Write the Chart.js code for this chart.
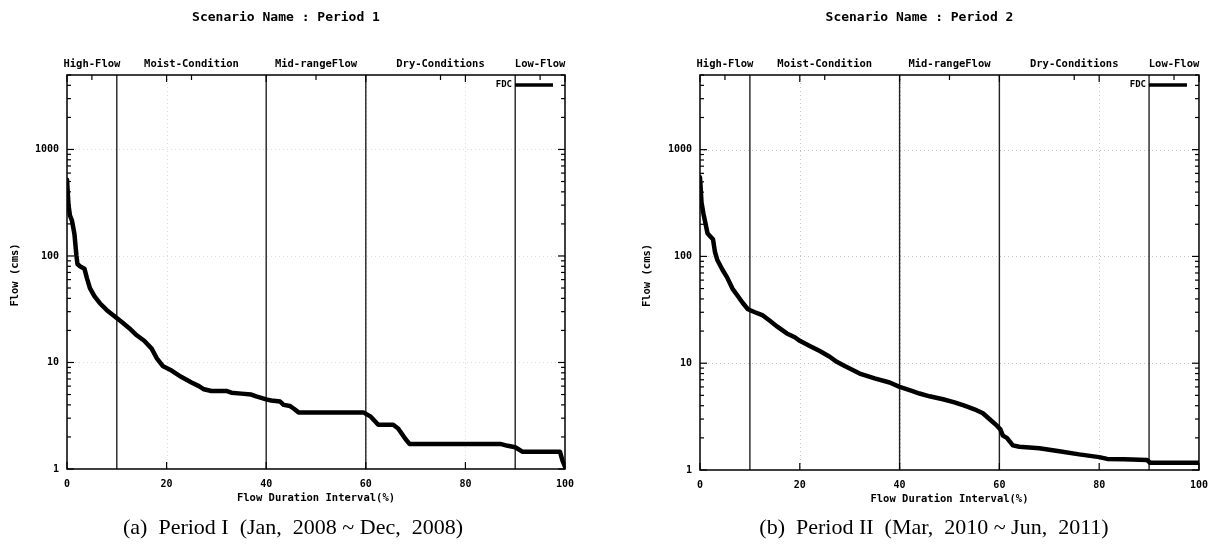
<!DOCTYPE html>
<html>
<head>
<meta charset="utf-8">
<script src="https://cdn.jsdelivr.net/npm/chart.js@4.4.1/dist/chart.umd.min.js"></script>
<style>
html, body { margin: 0; padding: 0; background: #fff; }
#wrap { position: relative; width: 1217px; height: 550px; overflow: hidden; }
canvas { position: absolute; top: 0; }
</style>
</head>
<body>
<div id="wrap">
  <canvas id="p1" width="608" height="550" style="left:0"></canvas>
  <canvas id="p2" width="609" height="550" style="left:608px"></canvas>
</div>
<script>
"use strict";

// flow duration curve, period 1 (x = % of time exceeded, y = flow in cms)
const durP1 = [0, 0.3, 0.6, 1.0, 1.5, 1.9, 2.1, 2.6, 3.5, 4.0, 4.6, 5.5, 6.6, 8.0, 9.6,
  11, 12.5, 14, 15.5, 17, 18, 19.3, 21, 23, 25, 26.5, 27.5, 29, 32, 33, 35, 37, 38, 40,
  41, 42.8, 43.5, 44.8, 45.5, 46.5, 59.5, 61, 62.5, 65.5, 66.5, 68, 68.8, 87, 88.5, 90,
  90.5, 91.5, 99, 99.5, 100];
const flowP1 = [520, 300, 240, 215, 160, 100, 84, 80, 76, 62, 50, 42, 36, 31, 27,
  24, 21, 18, 16, 13.5, 11, 9.2, 8.4, 7.3, 6.5, 6.0, 5.6, 5.4, 5.4, 5.2, 5.1, 5.0, 4.8, 4.5,
  4.4, 4.3, 4.0, 3.9, 3.7, 3.4, 3.4, 3.1, 2.6, 2.6, 2.4, 1.9, 1.72, 1.72, 1.65, 1.6,
  1.55, 1.45, 1.45, 1.2, 1.05];

// period 2
const durP2 = [0, 0.3, 0.7, 1.0, 1.5, 2.0, 2.6, 3.0, 3.5, 4.5, 5.4, 6.5, 7.5, 8.5, 9.6,
  11, 12.6, 14, 15.5, 17.4, 19, 20, 22, 24, 26, 27.4, 29, 32, 35, 38, 40, 42, 44, 46,
  48.7, 51, 53, 55, 56.7, 58, 59.5, 60.2, 60.7, 61.5, 62.7, 64, 68, 72, 76, 80, 81.6,
  85, 89.6, 90.2, 100];
const flowP2 = [550, 320, 250, 215, 165, 155, 145, 110, 92, 75, 64, 50, 43, 37, 32,
  30, 28, 25, 22, 19, 17.5, 16.2, 14.5, 13, 11.5, 10.3, 9.4, 8.0, 7.2, 6.6, 6.0, 5.6, 5.2, 4.9,
  4.6, 4.3, 4.0, 3.7, 3.4, 3.0, 2.6, 2.4, 2.1, 2.0, 1.7, 1.65, 1.6, 1.5, 1.4, 1.32, 1.27,
  1.26, 1.24, 1.17, 1.17];

const zoneEdges = [10, 40, 60, 90];
const zoneNames = ["High-Flow", "Moist-Condition", "Mid-rangeFlow", "Dry-Conditions", "Low-Flow"];
const zoneMids = [5, 25, 50, 75, 95];
const xTicks = [0, 20, 40, 60, 80, 100];
const yTicks = [1, 10, 100, 1000];
const yMax = 5000;

const titles = ["Scenario Name : Period 1", "Scenario Name : Period 2"];
const captions = ["(a)  Period I  (Jan,  2008 ~ Dec,  2008)", "(b)  Period II  (Mar,  2010 ~ Jun,  2011)"];

const MONO = '"DejaVu Sans Mono", "Liberation Mono", monospace';

function line(ctx, x1, y1, x2, y2) {
    ctx.beginPath();
    ctx.moveTo(x1, y1);
    ctx.lineTo(x2, y2);
    ctx.stroke();
}

const decor = {
    id: "decor",
    beforeDatasetsDraw(chart, args, o) {
        const { ctx, chartArea: a, scales: { x, y } } = chart;
        ctx.save();
        // dotted grid
        ctx.strokeStyle = o.gridColor;
        ctx.lineWidth = 1;
        ctx.setLineDash([1, 3]);
        xTicks.slice(1, -1).forEach(v => {
            const px = Math.round(x.getPixelForValue(v)) + 0.5;
            line(ctx, px, a.top, px, a.bottom);
        });
        yTicks.slice(1).forEach(v => {
            const py = Math.round(y.getPixelForValue(v)) + 0.5;
            line(ctx, a.left, py, a.right, py);
        });
        ctx.setLineDash([]);
        // zone boundaries
        ctx.strokeStyle = "#222";
        ctx.lineWidth = 1.4;
        zoneEdges.forEach(v => {
            const px = x.getPixelForValue(v);
            line(ctx, px, a.top, px, a.bottom);
        });
        ctx.restore();
    },
    afterDatasetsDraw(chart, args, o) {
        const { ctx, chartArea: a, scales: { x, y } } = chart;
        ctx.save();
        ctx.strokeStyle = "#000";
        ctx.lineWidth = 1.5;
        ctx.strokeRect(a.left, a.top, a.right - a.left, a.bottom - a.top);

        // tick marks (inward, mirrored)
        ctx.lineWidth = 1.2;
        yTicks.forEach(d => {
            const py = y.getPixelForValue(d);
            line(ctx, a.left, py, a.left + 7, py);
            line(ctx, a.right, py, a.right - 7, py);
            for (let k = 2; k <= 9; k++) {
                const v = d * k;
                if (v > yMax) break;
                const pm = y.getPixelForValue(v);
                line(ctx, a.left, pm, a.left + 4, pm);
                line(ctx, a.right, pm, a.right - 4, pm);
            }
        });
        xTicks.forEach(v => {
            const px = x.getPixelForValue(v);
            line(ctx, px, a.bottom, px, a.bottom - 7);
            line(ctx, px, a.top, px, a.top + 7);
        });
        zoneMids.forEach(v => {
            const px = x.getPixelForValue(v);
            line(ctx, px, a.top, px, a.top + 5);
        });

        ctx.fillStyle = "#000";
        ctx.textBaseline = "middle";
        const cx = (a.left + a.right) / 2;

        // title
        ctx.textAlign = "center";
        ctx.font = "bold 13px " + MONO;
        ctx.fillText(o.title, cx - 30, 18);

        // zone labels on the top axis
        ctx.font = "bold 10.5px " + MONO;
        zoneNames.forEach((n, i) => {
            ctx.fillText(n, x.getPixelForValue(zoneMids[i]), a.top - 11);
        });

        // axis titles
        ctx.font = "bold 10.5px " + MONO;
        ctx.fillText("Flow Duration Interval(%)", cx, a.bottom + 29);
        ctx.save();
        ctx.translate(o.yTitleX, (a.top + a.bottom) / 2 + 3);
        ctx.rotate(-Math.PI / 2);
        ctx.fillText("Flow (cms)", 0, 0);
        ctx.restore();

        // legend
        ctx.textAlign = "right";
        ctx.font = "bold 9px " + MONO;
        ctx.fillText("FDC", a.right - 53, a.top + 10);
        ctx.lineWidth = 3.5;
        line(ctx, a.right - 50, a.top + 10, a.right - 12, a.top + 10);

        // caption
        ctx.textAlign = "center";
        ctx.font = '22px "Liberation Serif", "Times New Roman", serif';
        ctx.fillText(o.caption, o.captionX, 528);
        ctx.restore();
    }
};

function makeChart(id, dur, flow, idx, pad, gridColor, yTitleX, captionX) {
    const canvas = document.getElementById(id);
    return new Chart(canvas.getContext("2d"), {
        type: "line",
        data: {
            datasets: [{
                label: "FDC",
                data: dur.map((d, i) => ({ x: d, y: flow[i] })),
                borderColor: "#000",
                borderWidth: 4.5,
                pointRadius: 0,
                tension: 0,
                borderJoinStyle: "round",
                borderCapStyle: "round",
                fill: false
            }]
        },
        options: {
            responsive: false,
            animation: false,
            layout: { padding: pad },
            plugins: {
                legend: { display: false },
                title: { display: false },
                tooltip: { enabled: false },
                decor: { title: titles[idx], caption: captions[idx], gridColor: gridColor,
                         yTitleX: yTitleX, captionX: captionX }
            },
            scales: {
                x: {
                    type: "linear",
                    min: 0,
                    max: 100,
                    afterBuildTicks: s => { s.ticks = xTicks.map(v => ({ value: v })); },
                    afterFit: s => { s.height = 30; },
                    grid: { display: false, drawTicks: false },
                    border: { display: false },
                    ticks: {
                        autoSkip: false,
                        maxRotation: 0,
                        padding: 9,
                        color: "#000",
                        font: { family: MONO, size: 10, weight: "bold" },
                        callback: v => String(v)
                    }
                },
                y: {
                    type: "logarithmic",
                    min: 1,
                    max: yMax,
                    afterBuildTicks: s => { s.ticks = yTicks.map(v => ({ value: v })); },
                    afterFit: s => { s.width = pad.yWidth; },
                    grid: { display: false, drawTicks: false },
                    border: { display: false },
                    ticks: {
                        autoSkip: false,
                        padding: 8,
                        color: "#000",
                        font: { family: MONO, size: 10, weight: "bold" },
                        callback: v => String(v)
                    }
                }
            }
        },
        plugins: [decor]
    });
}

makeChart("p1", durP1, flowP1, 0, { left: 0, top: 75, right: 43, bottom: 51, yWidth: 67 }, "#dcdcdc", 15, 293);
makeChart("p2", durP2, flowP2, 1, { left: 0, top: 75, right: 18, bottom: 50, yWidth: 92 }, "#c4c4c4", 39, 326);
</script>
</body>
</html>
